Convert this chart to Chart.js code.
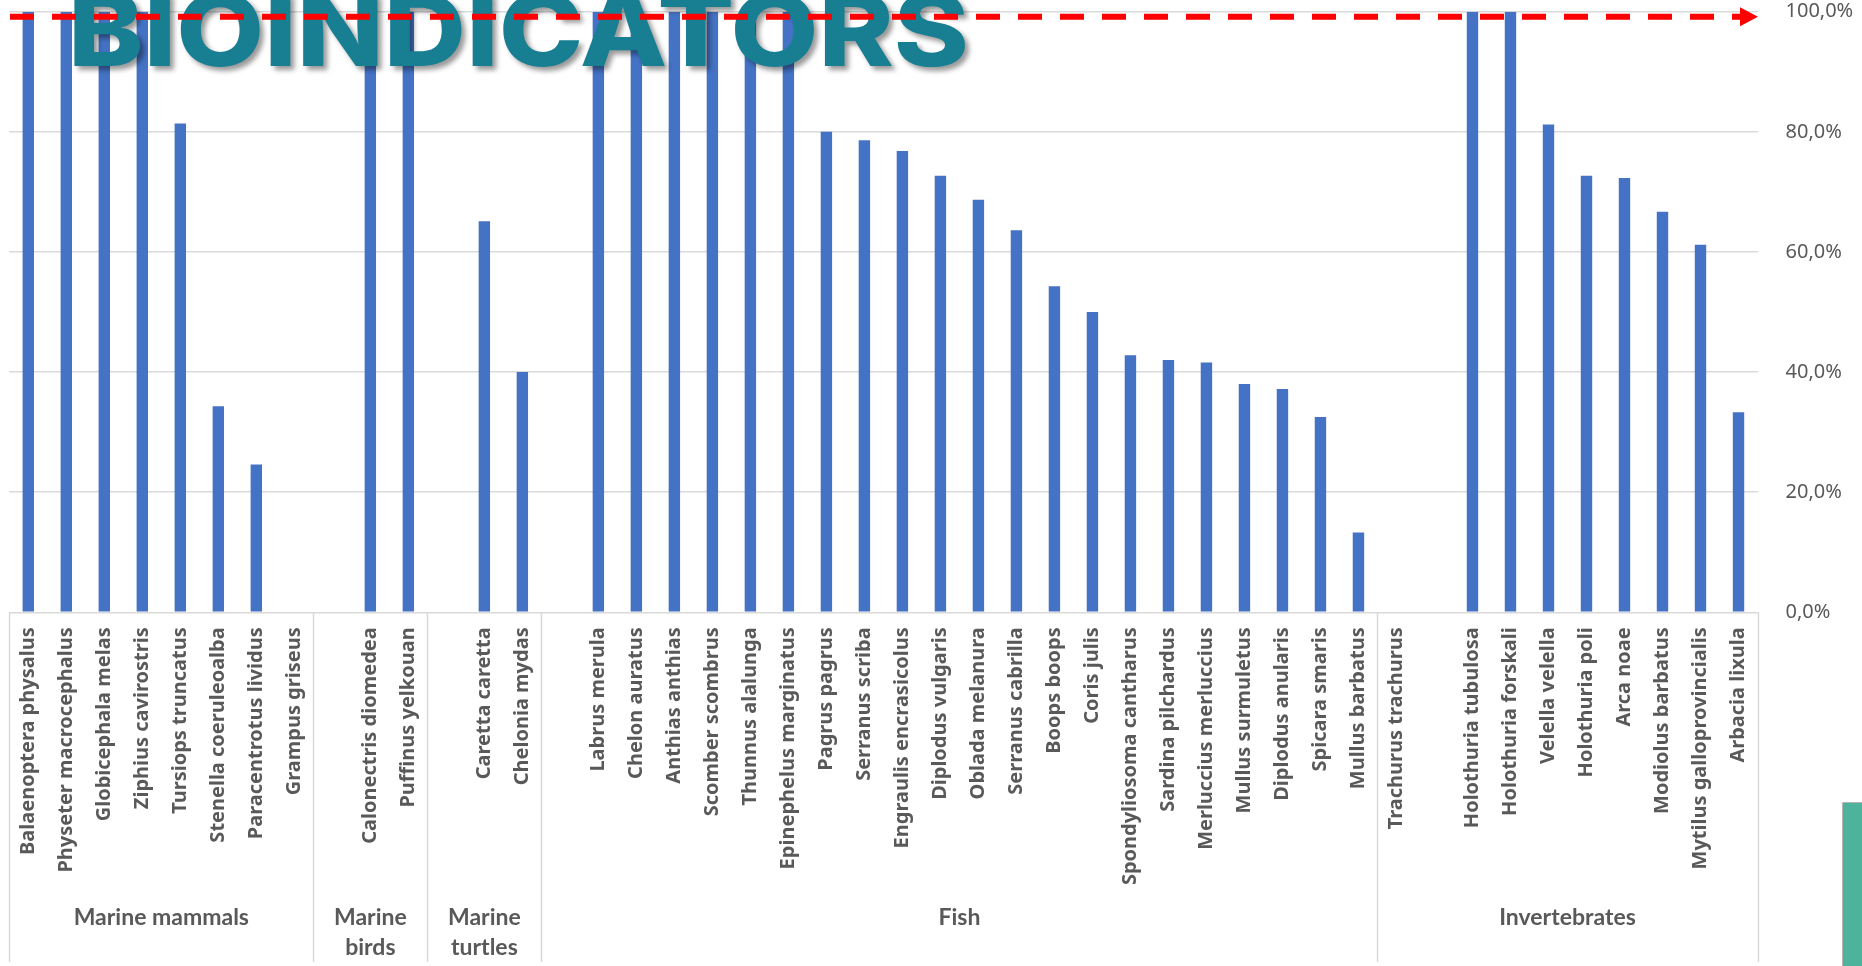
<!DOCTYPE html>
<html>
<head>
<meta charset="utf-8">
<title>Bioindicators</title>
<script src="https://cdn.jsdelivr.net/npm/chart.js@4.4.1/dist/chart.umd.min.js"></script>
<style>
html, body { margin: 0; padding: 0; background: #fff; }
#wrap { position: relative; width: 1862px; height: 966px; }
</style>
</head>
<body>
<div id="wrap"><canvas id="canvas"></canvas></div>
<script>
// categories ('' = empty slot in front of a group, as in the source sheet)
let species = [
    "Balaenoptera physalus", "Physeter macrocephalus", "Globicephala melas", "Ziphius cavirostris",
    "Tursiops truncatus", "Stenella coeruleoalba", "Paracentrotus lividus", "Grampus griseus",
    "", "Calonectris diomedea", "Puffinus yelkouan",
    "", "Caretta caretta", "Chelonia mydas",
    "", "Labrus merula", "Chelon auratus", "Anthias anthias", "Scomber scombrus", "Thunnus alalunga",
    "Epinephelus marginatus", "Pagrus pagrus", "Serranus scriba", "Engraulis encrasicolus",
    "Diplodus vulgaris", "Oblada melanura", "Serranus cabrilla", "Boops boops", "Coris julis",
    "Spondyliosoma cantharus", "Sardina pilchardus", "Merluccius merluccius", "Mullus surmuletus",
    "Diplodus anularis", "Spicara smaris", "Mullus barbatus",
    "Trachurus trachurus", "", "Holothuria tubulosa", "Holothuria forskali", "Velella velella",
    "Holothuria poli", "Arca noae", "Modiolus barbatus", "Mytilus galloprovincialis", "Arbacia lixula"
];
let shares = [
    100, 100, 100, 100, 81.4, 34.3, 24.6, 0,
    null, 100, 100,
    null, 65.1, 40.0,
    null, 100, 100, 100, 100, 100, 100, 80.0, 78.6, 76.8, 72.7, 68.7, 63.6, 54.3, 50.0,
    42.8, 42.0, 41.6, 38.0, 37.2, 32.5, 13.3,
    0, null, 100, 100, 81.2, 72.7, 72.3, 66.7, 61.2, 33.3
];
let groupNames = [["Marine mammals"], ["Marine", "birds"], ["Marine", "turtles"], ["Fish"], ["Invertebrates"]];
let groupSizes = [8, 3, 3, 22, 10];
let yTicks = [0, 20, 40, 60, 80, 100];

let canvas = document.getElementById("canvas");

let decor = {
    id: "decor",
    afterDraw(chart) {
        let ctx = chart.ctx;
        let xs = chart.scales.x;
        let ys = chart.scales.y;
        let area = chart.chartArea;
        let step = xs.getPixelForValue(1) - xs.getPixelForValue(0);
        let edge = i => xs.getPixelForValue(0) - step / 2 + i * step;

        // group dividers and group names
        ctx.save();
        ctx.strokeStyle = "#d9d9d9";
        ctx.lineWidth = 1.5;
        let start = 0;
        for (let g = 0; g <= groupSizes.length; g++) {
            let x = Math.round(edge(start)) + 0.5;
            ctx.beginPath();
            ctx.moveTo(x, area.bottom);
            ctx.lineTo(x, 962);
            ctx.stroke();
            if (g < groupSizes.length) start += groupSizes[g];
        }
        ctx.fillStyle = "#595959";
        ctx.font = "bold 23px Lato";
        ctx.textAlign = "center";
        ctx.textBaseline = "middle";
        start = 0;
        groupNames.forEach((lines, g) => {
            let cx = (edge(start) + edge(start + groupSizes[g])) / 2;
            lines.forEach((t, k) => ctx.fillText(t, cx, 918 + k * 30));
            start += groupSizes[g];
        });
        ctx.restore();

        // big title over the plot
        ctx.save();
        let word = "BIOINDICATORS";
        ctx.font = "800 100px Inter";
        let w = ctx.measureText(word).width;
        ctx.translate(68, 66);
        ctx.scale(901 / w, 1);
        ctx.shadowColor = "rgba(0,0,0,0.4)";
        ctx.shadowOffsetX = 4;
        ctx.shadowOffsetY = 4;
        ctx.shadowBlur = 5;
        ctx.fillStyle = "#187e92";
        ctx.textBaseline = "alphabetic";
        ctx.fillText(word, 0, 0);
        ctx.restore();

        // red dashed arrow at the 100% level
        ctx.save();
        let y = ys.getPixelForValue(100) + 5;
        ctx.strokeStyle = "#ff0000";
        ctx.fillStyle = "#ff0000";
        ctx.lineWidth = 6;
        ctx.setLineDash([24, 18]);
        ctx.beginPath();
        ctx.moveTo(10, y);
        ctx.lineTo(1740, y);
        ctx.stroke();
        ctx.setLineDash([]);
        ctx.beginPath();
        ctx.moveTo(1740, y - 9.5);
        ctx.lineTo(1758, y);
        ctx.lineTo(1740, y + 9.5);
        ctx.closePath();
        ctx.fill();
        ctx.restore();

        // green corner block
        ctx.save();
        ctx.fillStyle = "#4db39b";
        ctx.fillRect(1843, 803, 19, 163);
        ctx.strokeStyle = "#b5b5b5";
        ctx.lineWidth = 1;
        ctx.beginPath();
        ctx.moveTo(1842.5, 966);
        ctx.lineTo(1842.5, 802.5);
        ctx.lineTo(1862, 802.5);
        ctx.stroke();
        ctx.restore();
    }
};

let shareChart = new Chart(canvas, {
    type: "bar",
    data: {
        labels: species,
        datasets: [{
            data: shares,
            backgroundColor: "#4472c4",
            barPercentage: 0.3,
            categoryPercentage: 1.0
        }]
    },
    options: {
        responsive: true,
        maintainAspectRatio: false,
        animation: false,
        layout: { padding: { left: 9.3, top: 11.7, right: 0, bottom: 0 } },
        plugins: { legend: { display: false }, tooltip: { enabled: false } },
        scales: {
            x: {
                grid: { display: false },
                border: { display: false },
                ticks: {
                    autoSkip: false,
                    minRotation: 90,
                    maxRotation: 90,
                    padding: 7,
                    color: "#595959",
                    font: { family: "'Noto Sans'", size: 20, weight: "bold" }
                },
                afterFit(scale) { scale.height = 353.7; }
            },
            y: {
                position: "right",
                min: 0,
                max: 100,
                afterBuildTicks(scale) { scale.ticks = yTicks.map(v => ({ value: v })); },
                grid: { color: "#d9d9d9", lineWidth: 1.5, drawTicks: false },
                border: { display: false },
                ticks: {
                    padding: 28,
                    color: "#595959",
                    font: { family: "'Noto Sans'", size: 20 },
                    callback: v => v.toFixed(1).replace(".", ",") + "%"
                },
                afterFit(scale) {
                    scale.width = 104.5;
                    scale.paddingTop = 0;
                    scale.paddingBottom = 0;
                }
            }
        }
    },
    plugins: [decor]
});
</script>
</body>
</html>
